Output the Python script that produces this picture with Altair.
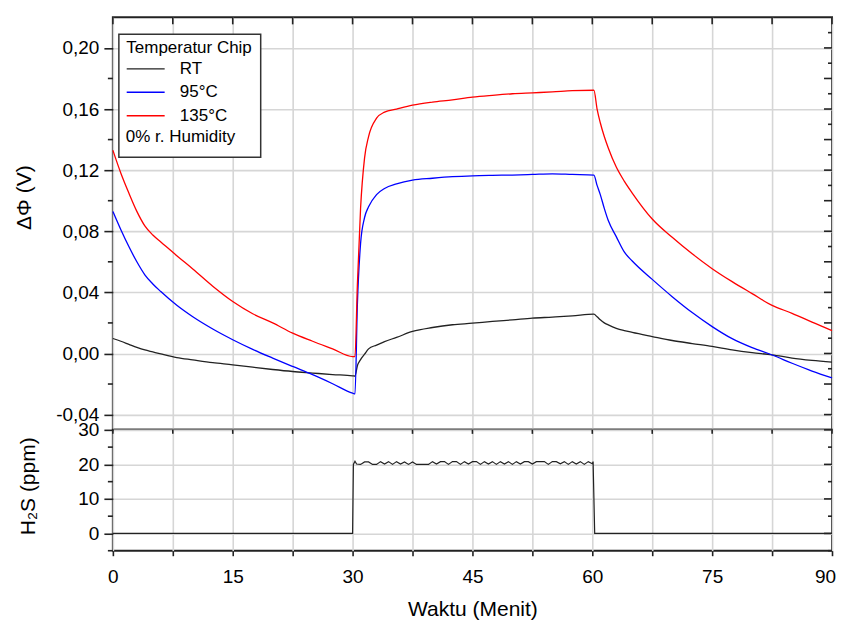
import altair as alt
import pandas as pd

# ---------------- data ----------------
time_min = [0, 1, 2, 3, 4, 5, 6, 8, 10, 12.5, 15, 17.5, 20, 22.5, 25, 27.5, 30,
            30.3, 30.6, 31, 31.5, 32, 33, 34, 35.5, 37.5, 40, 42.5, 45, 47.5,
            50, 52.5, 55, 57.5, 60.2, 60.6, 61, 61.5, 62, 63, 64, 65, 67.5,
            70, 72.5, 75, 77.5, 80, 82.5, 85, 87.5, 90]

rt = [0.0098, 0.008, 0.006, 0.0040, 0.0023, 0.0010, -0.0003, -0.0027, -0.0042,
      -0.006, -0.0074, -0.009, -0.0105, -0.0118, -0.0128, -0.0138, -0.0146,
      -0.0148, -0.008, -0.004, -0.0005, 0.003, 0.0055, 0.0078, 0.0105,
      0.0144, 0.017, 0.0188, 0.0198, 0.021, 0.022, 0.0231, 0.0238, 0.0246,
      0.0257, 0.024, 0.022, 0.020, 0.0187, 0.0165, 0.015, 0.0138,
      0.0111, 0.0085, 0.0065, 0.0046, 0.0023, 0.0005, -0.0009, -0.003, -0.0045, -0.0057]

t95 = [0.093, 0.081, 0.070, 0.060, 0.0515, 0.0455, 0.0405, 0.0315, 0.024,
       0.016, 0.009, 0.0027, -0.003, -0.0085, -0.0139, -0.0198, -0.026,
       -0.0265, 0.032, 0.072, 0.089, 0.096, 0.104, 0.108, 0.111,
       0.1135, 0.1147, 0.1157, 0.1163, 0.1166, 0.1168, 0.1172, 0.1176, 0.1172,
       0.1168, 0.110, 0.104, 0.095, 0.087, 0.0765, 0.0665, 0.0605,
       0.0485, 0.0372, 0.0268, 0.0176, 0.0097, 0.0038, -0.001, -0.0064, -0.0115, -0.016]

t135 = [0.133, 0.118, 0.105, 0.093, 0.0835, 0.0775, 0.0730, 0.064, 0.0553,
        0.044, 0.034, 0.026, 0.020, 0.0133, 0.008, 0.003, -0.002,
        -0.002, 0.045, 0.095, 0.128, 0.142, 0.154, 0.158, 0.160,
        0.1625, 0.1645, 0.166, 0.1678, 0.169, 0.170, 0.1706, 0.1712, 0.172,
        0.1723, 0.160, 0.151, 0.142, 0.1345, 0.122, 0.1128, 0.105,
        0.088, 0.076, 0.0652, 0.0555, 0.047, 0.0392, 0.0315, 0.0263, 0.0205, 0.015]

series_names = ["RT", "95°C", "135°C"]
series_colors = ["#222222", "#0000ff", "#ff0000"]

h2s_time = [0, 30.0, 30.1, 30.3, 30.5,
            31.0, 31.5, 32.0, 32.5, 33.0, 33.5, 34.0, 34.5, 35.0, 35.5,
            36.0, 36.5, 37.0, 37.5, 38.0, 38.5, 39.0, 39.5, 40.0, 40.5,
            41.0, 41.5, 42.0, 42.5, 43.0, 43.5, 44.0, 44.5, 45.0, 45.5,
            46.0, 46.5, 47.0, 47.5, 48.0, 48.5, 49.0, 49.5, 50.0, 50.5,
            51.0, 51.5, 52.0, 52.5, 53.0, 53.5, 54.0, 54.5, 55.0, 55.5,
            56.0, 56.5, 57.0, 57.5, 58.0, 58.5, 59.0, 59.5, 60.0, 60.1,
            60.3, 90]
h2s_ppm = [0, 0, 20.0, 20.9, 20.1,
           20.0, 20.7, 20.7, 20.0, 20.0, 20.8, 20.1, 20.8, 20.0, 20.8,
           20.1, 20.7, 20.0, 20.7, 20.0, 20.0, 20.0, 20.0, 20.8, 20.1,
           20.8, 20.8, 20.0, 20.8, 20.8, 20.0, 20.8, 20.1, 20.8, 20.8,
           20.0, 20.8, 20.1, 20.8, 20.0, 20.8, 20.1, 20.8, 20.0, 20.8,
           20.1, 20.8, 20.8, 20.1, 20.8, 20.8, 20.8, 20.0, 20.8, 20.8,
           20.2, 20.8, 20.0, 20.8, 20.1, 20.8, 20.0, 20.8, 20.2, 20.8,
           0, 0]

x_ticks = [0, 7.5, 15, 22.5, 30, 37.5, 45, 52.5, 60, 67.5, 75, 82.5, 90]
y1_major = [-0.04, 0.0, 0.04, 0.08, 0.12, 0.16, 0.20]
y1_left_minor = [-0.02, 0.02, 0.06, 0.10, 0.14, 0.18]
y1_right_major = [-0.04, -0.02, 0.0, 0.02, 0.04, 0.06, 0.08, 0.10, 0.12,
                  0.14, 0.16, 0.18, 0.20]
y1_right_minor = [-0.03, -0.01, 0.01, 0.03, 0.05, 0.07, 0.09, 0.11, 0.13,
                  0.15, 0.17, 0.19, 0.21]
y2_major = [0, 10, 20, 30]
y2_minor = [-5, 5, 15, 25]

legend_title = "Temperatur Chip"
humidity_note = "0% r. Humidity"
x_title = "Waktu (Menit)"
y1_title = "ΔΦ (V)"
y2_title = "H₂S (ppm)"

# ---------------- chart ----------------
FONT = "Liberation Sans"
W, H1, H2 = 720, 413, 121
INK = "#222222"

n = len(time_min)
df = pd.DataFrame({
    "time": time_min * 3,
    "value": rt + t95 + t135,
    "series": ["RT"] * n + ["95°C"] * n + ["135°C"] * n,
})
h2s_df = pd.DataFrame({"time": h2s_time, "value": h2s_ppm})

xs = alt.Scale(domain=[0, 90], nice=False, zero=False)
ys1 = alt.Scale(domain=[-0.05, 0.22], nice=False, zero=False)
ys2 = alt.Scale(domain=[-5, 30], nice=False, zero=False)

lab1 = "(datum.value < 0 ? '-' : '') + replace(format(abs(datum.value), '.2f'), '.', ',')"

x_axis_top = alt.Axis(values=x_ticks, labels=False, ticks=False, grid=True, title=None)
y_axis_top = alt.Axis(values=y1_major, labelExpr=lab1, tickSize=9, labelPadding=5,
                      grid=True, title=y1_title, titleX=-88, titleY=180,
                      titleBaseline="middle")
x_axis_bot = alt.Axis(values=x_ticks,
                      labelExpr="datum.value % 15 == 0 ? datum.label : ''",
                      labelOffset={"condition": {"test": "datum.value == 90", "value": -7},
                                   "value": 0},
                      tickSize=5, labelPadding=12, labelFlush=False, grid=True,
                      title=x_title, titlePadding=12)
y_axis_bot = alt.Axis(values=y2_major, tickSize=9, labelPadding=5, grid=True,
                      title=y2_title, titleX=-84, titleY=56, titleBaseline="middle")

one = pd.DataFrame({"a": [0]})


def xrule(values, scale, axis, y0, y1):
    return alt.Chart(pd.DataFrame({"time": values})).mark_rule(
        color=INK, strokeWidth=1.6).encode(
        x=alt.X("time:Q", scale=scale, axis=axis),
        y=alt.value(y0), y2=alt.value(y1))


def yrule(values, scale, axis, x0, x1):
    return alt.Chart(pd.DataFrame({"value": values})).mark_rule(
        color=INK, strokeWidth=1.6).encode(
        y=alt.Y("value:Q", scale=scale, axis=axis),
        x=alt.value(x0), x2=alt.value(x1))


lines = alt.Chart(df).mark_line(strokeWidth=1.3, interpolate="monotone").encode(
    x=alt.X("time:Q", scale=xs, axis=x_axis_top),
    y=alt.Y("value:Q", scale=ys1, axis=y_axis_top),
    color=alt.Color("series:N",
                    scale=alt.Scale(domain=series_names, range=series_colors),
                    legend=alt.Legend(title=legend_title, orient="none",
                                      legendX=13.5, legendY=23,
                                      symbolType="M-2,0H2", symbolSize=361,
                                      symbolStrokeWidth=1.3, symbolOffset=8.85,
                                      labelFont=FONT, labelFontSize=17, labelColor="black",
                                      titleFont=FONT, titleFontSize=17,
                                      titleFontWeight="normal", titleColor="black",
                                      labelOffset=23.7, rowPadding=4.5, titlePadding=1,
                                      padding=0, direction="vertical")),
)

box = alt.Chart(one).mark_rect(fill="white", stroke="#333333", strokeWidth=1.5).encode(
    x=alt.value(6), x2=alt.value(148), y=alt.value(17), y2=alt.value(140))

note = alt.Chart(one).mark_text(align="left", baseline="middle", font=FONT,
                                fontSize=17, color="black").encode(
    x=alt.value(13), y=alt.value(120), text=alt.value(humidity_note))

top = alt.layer(
    box, lines,
    xrule(x_ticks, xs, x_axis_top, 0, 7),
    yrule(y1_right_major, ys1, y_axis_top, W - 8, W),
    yrule(y1_right_minor, ys1, y_axis_top, W - 4, W),
    yrule(y1_left_minor, ys1, y_axis_top, -5, 0),
    note,
).properties(width=W, height=H1)

h2s = alt.Chart(h2s_df).mark_line(strokeWidth=1.2, color=INK).encode(
    x=alt.X("time:Q", scale=xs, axis=x_axis_bot),
    y=alt.Y("value:Q", scale=ys2, axis=y_axis_bot),
)

bottom = alt.layer(
    h2s,
    xrule(x_ticks, xs, x_axis_bot, 0, 4),
    yrule(y2_major, ys2, y_axis_bot, W - 8, W),
    yrule(y2_minor, ys2, y_axis_bot, W - 4, W),
    yrule(y2_minor, ys2, y_axis_bot, -5, 0),
).properties(width=W, height=H2)

chart = alt.vconcat(top, bottom, spacing=0, bounds="flush").properties(
    padding={"left": 5, "top": 7, "right": 0, "bottom": 0},
    background="white",
).configure_view(
    stroke=INK, strokeWidth=2,
).configure_axis(
    labelFont=FONT, labelFontSize=19, labelColor="black",
    titleFont=FONT, titleFontSize=21, titleFontWeight="normal", titleColor="black",
    tickColor=INK, tickWidth=1.6, gridColor="#d6d6d6", gridWidth=1.6, domain=False,
)

chart.save("out.html", embed_options={"renderer": "svg", "actions": False})
